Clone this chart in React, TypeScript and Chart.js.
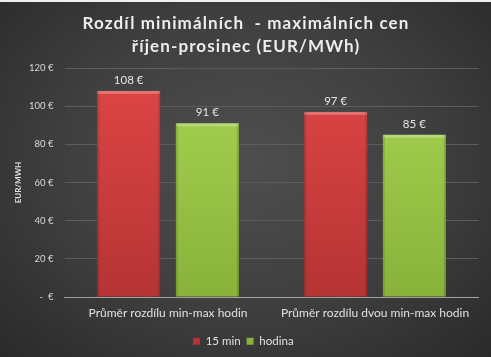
import React, { useEffect, useRef } from "react";
import { Chart, registerables } from "chart.js";

Chart.register(...registerables);

const categories = ["Průměr rozdílu min-max hodin", "Průměr rozdílu dvou min-max hodin"];
const series15min = [108, 97];
const seriesHodina = [91, 85];
const seriesNames = ["15 min", "hodina"];
const yTicks = [0, 20, 40, 60, 80, 100, 120];
const titleLines = ["Rozdíl minimálních  - maximálních cen", "říjen-prosinec (EUR/MWh)"];

const FONT = "Lato, 'Noto Sans', sans-serif";
const TITLE_SIZE = 17;
const TITLE_LH = 23;
const TITLE_PAD_TOP = 6;

function makeGrad(ctx: CanvasRenderingContext2D, area: any, top: string, bottom: string) {
  const g = ctx.createLinearGradient(0, area.top, 0, area.bottom);
  g.addColorStop(0, top);
  g.addColorStop(1, bottom);
  return g;
}

const dataLabelPlugin = {
  id: "dataLabels",
  afterDatasetsDraw(chart: any) {
    const ctx = chart.ctx;
    ctx.save();
    ctx.fillStyle = "#e6e6e6";
    ctx.font = `11.5px ${FONT}`;
    ctx.textAlign = "center";
    ctx.textBaseline = "bottom";
    chart.data.datasets.forEach((ds: any, i: number) => {
      const meta = chart.getDatasetMeta(i);
      meta.data.forEach((bar: any, j: number) => {
        ctx.fillText(`${ds.data[j]} €`, bar.x, bar.y - 5);
      });
    });
    ctx.restore();
  },
};

const bevelPlugin = {
  id: "bevel",
  afterDatasetsDraw(chart: any) {
    const ctx = chart.ctx;
    ctx.save();
    chart.data.datasets.forEach((ds: any, i: number) => {
      const meta = chart.getDatasetMeta(i);
      meta.data.forEach((bar: any) => {
        const l = bar.x - bar.width / 2;
        const r = bar.x + bar.width / 2;
        ctx.fillStyle = "rgba(255,255,255,0.25)";
        ctx.fillRect(l, bar.y, r - l, 3);
        ctx.fillStyle = "rgba(0,0,0,0.12)";
        ctx.fillRect(l, bar.y, 2, bar.base - bar.y);
        ctx.fillRect(r - 2, bar.y, 2, bar.base - bar.y);
      });
    });
    ctx.restore();
  },
};

const spacedTitlePlugin = {
  id: "spacedTitle",
  afterDraw(chart: any) {
    const tb = chart.titleBlock;
    if (!tb) return;
    const ctx = chart.ctx;
    ctx.save();
    ctx.fillStyle = "#ececec";
    ctx.font = `bold ${TITLE_SIZE}px ${FONT}`;
    (ctx as any).letterSpacing = "1.1px";
    ctx.textAlign = "center";
    ctx.textBaseline = "middle";
    const cx = chart.width / 2 + 0.5;
    titleLines.forEach((line, i) => {
      ctx.fillText(line, cx, tb.top + TITLE_PAD_TOP + TITLE_LH * (i + 0.5));
    });
    ctx.restore();
  },
};

export default function App() {
  const ref = useRef<HTMLCanvasElement>(null);
  useEffect(() => {
    document.body.style.margin = "0";
    const chart = new Chart(ref.current!, {
      type: "bar",
      data: {
        labels: categories,
        datasets: [
          {
            label: seriesNames[0],
            data: series15min,
            backgroundColor: (c: any) => {
              const a = c.chart.chartArea;
              if (!a) return "#d24040";
              return makeGrad(c.chart.ctx, a, "#e04646", "#b53434");
            },
            borderWidth: 0,
            barPercentage: 0.8,
            categoryPercentage: 0.76,
          },
          {
            label: seriesNames[1],
            data: seriesHodina,
            backgroundColor: (c: any) => {
              const a = c.chart.chartArea;
              if (!a) return "#9cc84a";
              return makeGrad(c.chart.ctx, a, "#a8d452", "#88b23a");
            },
            borderWidth: 0,
            barPercentage: 0.8,
            categoryPercentage: 0.76,
          },
        ],
      },
      options: {
        animation: false,
        responsive: false,
        maintainAspectRatio: false,
        layout: { padding: { left: 8, right: 12.5, top: 4, bottom: 0 } },
        plugins: {
          title: {
            display: true,
            text: titleLines,
            color: "rgba(0,0,0,0)",
            font: { family: FONT, size: TITLE_SIZE, weight: "bold", lineHeight: TITLE_LH / TITLE_SIZE },
            padding: { top: TITLE_PAD_TOP, bottom: 10 },
          },
          legend: {
            position: "bottom",
            labels: {
              color: "#e0e0e0",
              font: { family: FONT, size: 11.5 },
              boxWidth: 7,
              boxHeight: 7,
              padding: 6,
            },
          },
          tooltip: { enabled: false },
        },
        scales: {
          x: {
            grid: { display: false, drawTicks: false },
            border: { display: true, color: "#a0a0a0", width: 1 },
            ticks: { color: "#e0e0e0", font: { family: FONT, size: 12, lineHeight: 0.7 }, padding: 12 },
          },
          y: {
            min: 0,
            max: 120,
            afterBuildTicks: (axis: any) => {
              axis.ticks = yTicks.map((v) => ({ value: v }));
            },
            afterFit: (axis: any) => {
              axis.width = 56.5;
            },
            grid: { color: "#5c5c5c", lineWidth: 1, drawTicks: false },
            border: { display: false },
            ticks: {
              color: "#d8d8d8",
              font: { family: FONT, size: 9.5 },
              padding: 11,
              callback: (v: any) => (v === 0 ? "-  €" : `${v} €`),
            },
            title: {
              display: true,
              text: "EUR/MWH",
              color: "#e0e0e0",
              font: { family: FONT, size: 8, weight: "bold" },
              padding: { top: 6, bottom: 4 },
            },
          },
        },
      },
      plugins: [bevelPlugin, dataLabelPlugin, spacedTitlePlugin],
    });
    return () => chart.destroy();
  }, []);
  return (
    <div
      style={{
        width: 491,
        height: 357,
        background: "radial-gradient(ellipse at 50% 45%, #4e4e4e 0%, #404040 50%, #2a2a2a 100%)",
        borderTop: "2px solid #f0f0f0",
        boxSizing: "border-box",
      }}
    >
      <canvas ref={ref} width={491} height={355} style={{ display: "block" }} />
    </div>
  );
}
